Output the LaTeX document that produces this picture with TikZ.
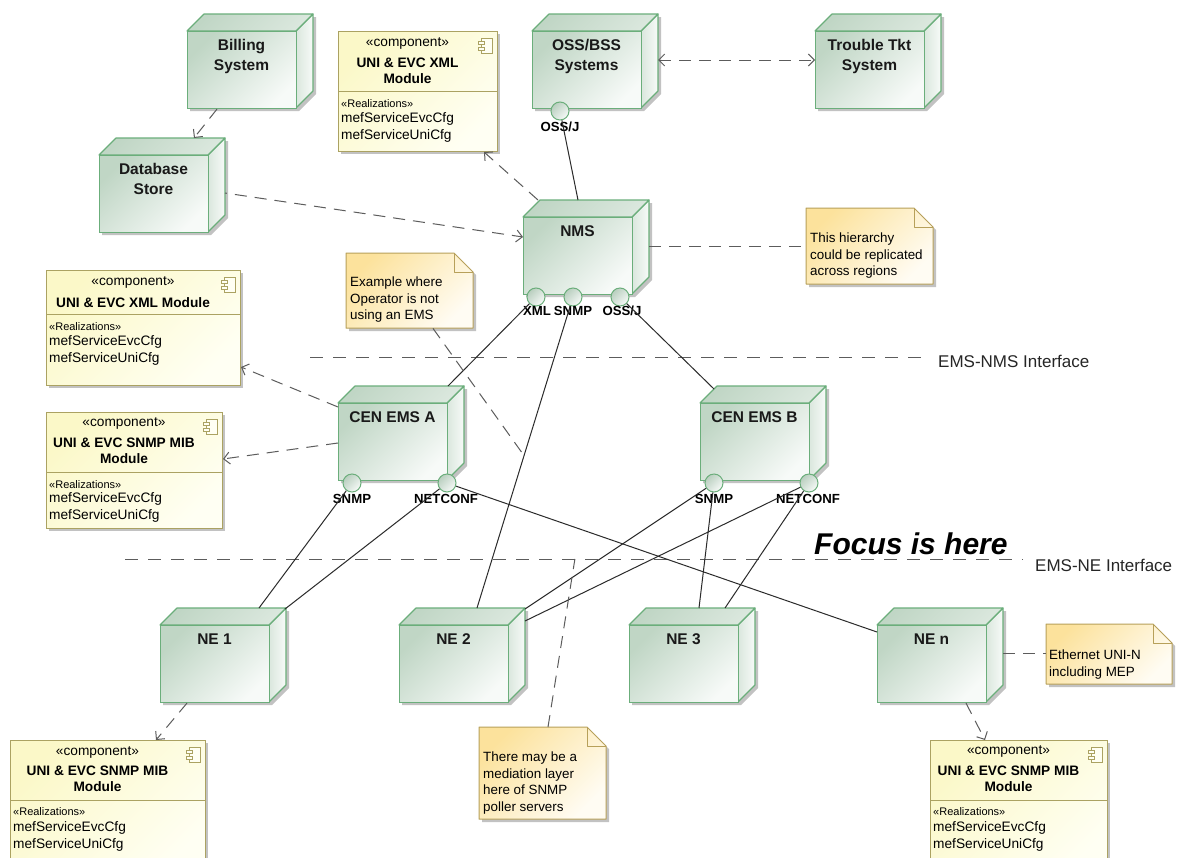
\documentclass[tikz,border=0pt]{standalone}
\usepackage{fontspec}
\setmainfont{Liberation Sans}
\usetikzlibrary{arrows.meta,calc}

\definecolor{nodeDark}{HTML}{C0D6C5}
\definecolor{nodeLight}{HTML}{F7FAF8}
\definecolor{sideDark}{HTML}{DAE7DD}
\definecolor{nodeLine}{HTML}{6BAE7B}
\definecolor{portDark}{HTML}{B8CEBE}
\definecolor{compDark}{HTML}{FBF8C8}
\definecolor{compLight}{HTML}{FFFFF3}
\definecolor{compLine}{HTML}{ABA262}
\definecolor{noteDark}{HTML}{FCE29C}
\definecolor{noteLight}{HTML}{FFFCF3}
\definecolor{noteLine}{HTML}{B7A05A}
\definecolor{shadowGray}{HTML}{C2C2C2}
\definecolor{dashGray}{HTML}{5C5C5C}
\definecolor{lineDark}{HTML}{2B2B2B}

\tikzset{
  frontface/.style={draw=nodeLine, line width=1.1pt, top color=nodeDark, bottom color=nodeLight, shading angle=45, minimum width=109pt, minimum height=77pt, inner sep=0pt, anchor=north west},
  topface/.style={draw=nodeLine, line width=1.1pt, line join=round, top color=nodeDark, bottom color=sideDark, shading angle=45},
  sideface/.style={draw=nodeLine, line width=1.1pt, line join=round, left color=sideDark, right color=nodeLight},
  cubetitle/.style={font=\fontsize{15.5}{19.5}\selectfont\bfseries, align=center, inner sep=0pt, anchor=north, text=black!90},
  port/.style={circle, draw=nodeLine, line width=1pt, minimum size=18pt, inner sep=0pt, top color=portDark, bottom color=nodeLight, shading angle=45},
  portlabel/.style={font=\fontsize{13.2}{15}\selectfont\bfseries, inner sep=0pt},
  compshape/.style={draw=compLine, line width=1pt, top color=compDark, bottom color=compLight, shading angle=45, inner sep=0pt, anchor=north west},
  stereo/.style={font=\fontsize{13.7}{16}\selectfont, inner sep=0pt},
  compname/.style={font=\fontsize{13.7}{16}\selectfont\bfseries, align=center, inner sep=0pt, anchor=north},
  realiz/.style={font=\fontsize{11}{13}\selectfont, inner sep=0pt, anchor=west},
  ops/.style={font=\fontsize{13.7}{16.5}\selectfont, align=left, inner sep=0pt, anchor=north west},
  noteshape/.style={draw=noteLine, line width=1pt, line join=round, top color=noteDark, bottom color=noteLight, shading angle=45},
  notetext/.style={font=\fontsize{13.4}{16.5}\selectfont, align=left, inner sep=0pt, anchor=north west},
  conn/.style={draw=lineDark, line width=1pt},
  dep/.style={draw=dashGray, line width=1pt, dash pattern=on 12pt off 8pt, -{Straight Barb[length=6pt,width=12pt]}},
  notelink/.style={draw=dashGray, line width=1pt, dash pattern=on 12pt off 8pt},
  ifline/.style={draw=dashGray, line width=1pt, dash pattern=on 13pt off 10pt},
  iflabel/.style={font=\fontsize{17}{20}\selectfont, inner sep=0pt, anchor=west, text=black!85},
  focus/.style={font=\fontsize{30}{34}\selectfont\bfseries\itshape, inner sep=0pt, anchor=west},
}

\newcommand\cubebox[4]{%
  \fill[shadowGray] (#2+3,#3+3) -- (#2+20,#3-14) -- (#2+129,#3-14) -- (#2+129,#3+63) -- (#2+112,#3+80) -- (#2+3,#3+80) -- cycle;
  \path[sideface] (#2+109,#3) -- (#2+126,#3-17) -- (#2+126,#3+60) -- (#2+109,#3+77) -- cycle;
  \path[topface] (#2,#3) -- (#2+17,#3-17) -- (#2+126,#3-17) -- (#2+109,#3) -- cycle;
  \node[frontface] (#1) at (#2,#3) {};
  \node[cubetitle] (#1-title) at (#2+54.5,#3+8.5) {#4};
}

\newcommand\compframe[6]{%
  \fill[shadowGray] (#2+3,#3+3) rectangle (#4+3,#5+3);
  \node[compshape, minimum width=#4-#2, minimum height=#5-#3] (#1) at (#2,#3) {};
  \draw[compLine, line width=1pt] (#2,#6) -- (#4,#6);
  \draw[compLine, line width=0.9pt, fill=compLight] (#4-16,#3+7) rectangle (#4-5,#3+22);
  \draw[compLine, line width=0.9pt, fill=compLight] (#4-19,#3+10) rectangle (#4-13,#3+13);
  \draw[compLine, line width=0.9pt, fill=compLight] (#4-19,#3+16) rectangle (#4-13,#3+19);
}

\newcommand\notebox[5]{%
  \fill[shadowGray] (#2+3,#3+3) -- (#4-16,#3+3) -- (#4+3,#3+22) -- (#4+3,#5+3) -- (#2+3,#5+3) -- cycle;
  \path[noteshape] (#2,#3) -- (#4-19,#3) -- (#4,#3+19) -- (#4,#5) -- (#2,#5) -- cycle;
  \draw[noteLine, line width=1pt, line join=round] (#4-19,#3) -- (#4-19,#3+19) -- (#4,#3+19);
  \node[inner sep=0pt, minimum width=#4-#2, minimum height=#5-#3, anchor=north west] (#1) at (#2,#3) {};
}

\begin{document}
\begin{tikzpicture}[x=1pt,y=-1pt]
\useasboundingbox (0,0) rectangle (1180,857);
\fill[white] (0,0) rectangle (1180,857);
\clip (0,0) rectangle (1180,857);

% interface lines
\coordinate (ifnmsL) at (310,357);
\coordinate (ifnmsR) at (928,357);
\coordinate (ifneL) at (125,559);
\coordinate (ifneR) at (1023,559);
\draw[ifline] (ifnmsL) -- (ifnmsR);
\draw[ifline] (ifneL) -- (ifneR);
\node[iflabel] (ifnmsText) at (938,361) {EMS-NMS Interface};
\node[iflabel] (ifneText) at (1035,565) {EMS-NE Interface};
\node[focus] (focusText) at (814,544) {Focus is here};

% nodes (3D boxes)
\cubebox{billing}{187}{31}{Billing\\System}
\cubebox{db}{99}{155}{Database\\Store}
\cubebox{oss}{532}{31}{OSS/BSS\\Systems}
\cubebox{trouble}{815}{31}{Trouble Tkt\\System}
\cubebox{nms}{523}{217}{NMS}
\cubebox{emsA}{338}{403}{CEN EMS A}
\cubebox{emsB}{700}{403}{CEN EMS B}
\cubebox{ne1}{160}{625}{NE 1}
\cubebox{ne2}{399}{625}{NE 2}
\cubebox{ne3}{629}{625}{NE 3}
\cubebox{nen}{877}{625}{NE n}

% components
\compframe{compTop}{338}{31}{497}{151}{91}
\node[stereo] (compTop-s) at (407.5,43) {«component»};
\node[compname] (compTop-n) at (407.5,58) {UNI \& EVC XML\\Module};
\node[realiz] (compTop-r) at (341,104) {«Realizations»};
\node[ops] (compTop-o) at (341,112.5) {mefServiceEvcCfg\\mefServiceUniCfg};

\compframe{compXML}{46}{270}{240}{385}{314}
\node[stereo] (compXML-s) at (133,282) {«component»};
\node[compname] (compXML-n) at (133,297) {UNI \& EVC XML Module};
\node[realiz] (compXML-r) at (49,327) {«Realizations»};
\node[ops] (compXML-o) at (49,335.5) {mefServiceEvcCfg\\mefServiceUniCfg};

\compframe{compSNMP}{46}{412}{222}{528}{472}
\node[stereo] (compSNMP-s) at (124,423) {«component»};
\node[compname] (compSNMP-n) at (124,438) {UNI \& EVC SNMP MIB\\Module};
\node[realiz] (compSNMP-r) at (49,485) {«Realizations»};
\node[ops] (compSNMP-o) at (49,492.5) {mefServiceEvcCfg\\mefServiceUniCfg};

\compframe{compBL}{10}{740}{205}{875}{800}
\node[stereo] (compBL-s) at (97.5,752) {«component»};
\node[compname] (compBL-n) at (97.5,766) {UNI \& EVC SNMP MIB\\Module};
\node[realiz] (compBL-r) at (13,812) {«Realizations»};
\node[ops] (compBL-o) at (13,821.5) {mefServiceEvcCfg\\mefServiceUniCfg};

\compframe{compBR}{930}{740}{1107}{875}{800}
\node[stereo] (compBR-s) at (1008.5,751) {«component»};
\node[compname] (compBR-n) at (1008.5,766) {UNI \& EVC SNMP MIB\\Module};
\node[realiz] (compBR-r) at (933,812) {«Realizations»};
\node[ops] (compBR-o) at (933,821.5) {mefServiceEvcCfg\\mefServiceUniCfg};

% notes
\notebox{hier}{806}{208}{933}{284}
\node[notetext] (hier-t) at (810,233) {This hierarchy\\could be replicated\\across regions};
\notebox{ex}{346}{253}{473}{328}
\node[notetext] (ex-t) at (350,277) {Example where\\Operator is not\\using an EMS};
\notebox{med}{479}{727}{606}{819}
\node[notetext] (med-t) at (483,752) {There may be a\\mediation layer\\here of SNMP\\poller servers};
\notebox{eth}{1046}{624}{1172}{684}
\node[notetext] (eth-t) at (1049,650) {Ethernet UNI-N\\including MEP};

% ports
\node[port] (ossJ) at (560,111) {};
\node[portlabel] (ossJ-l) at (560,127) {OSS/J};
\node[port] (nmsXML) at (536,297) {};
\node[portlabel] (nmsXML-l) at (537,311) {XML};
\node[port] (nmsSNMP) at (573,297) {};
\node[portlabel] (nmsSNMP-l) at (573,311) {SNMP};
\node[port] (nmsOSS) at (620,297) {};
\node[portlabel] (nmsOSS-l) at (622,311) {OSS/J};
\node[port] (emsAsnmp) at (352,483) {};
\node[portlabel] (emsAsnmp-l) at (352,499) {SNMP};
\node[port] (emsAnet) at (447,483) {};
\node[portlabel] (emsAnet-l) at (446,499) {NETCONF};
\node[port] (emsBsnmp) at (714,483) {};
\node[portlabel] (emsBsnmp-l) at (714,499) {SNMP};
\node[port] (emsBnet) at (809,483) {};
\node[portlabel] (emsBnet-l) at (808,499) {NETCONF};

% helper coordinates
\coordinate (ne2top) at ($(ne2.north west)+(78,-17)$);
\coordinate (exA) at ($(nmsSNMP)!0.51!(ne2top)$);
\coordinate (medA) at ($(ifneL)!0.501!(ifneR)$);

% connectors
\draw[dep] ($(billing.south west)+(30,0)$) -- ($(db.north west)+(95,-17)$);
\draw[dep, dash phase=10pt] ($(db.north west)+(126,38)$) -- ($(nms.north west)+(0,20)$);
\draw[dep] ($(nms.north west)+(15,-17)$) -- ($(compTop.south west)+(146,0)$);
\draw[conn] (ossJ) -- ($(nms.north west)+(55,-17)$);
\draw[dep, {Straight Barb[length=6pt,width=12pt]}-{Straight Barb[length=6pt,width=12pt]}] ($(oss.north west)+(126,29)$) -- ($(trouble.north west)+(0,29)$);
\draw[notelink] ($(nms.north west)+(126,29)$) -- ($(hier.north west)+(0,38)$);
\draw[conn] (nmsXML) -- ($(emsA.north west)+(110,-17)$);
\draw[conn] (nmsSNMP) -- (ne2top);
\draw[conn] (nmsOSS) -- ($(emsB.north west)+(14,-14)$);
\draw[dep] ($(emsA.north west)+(0,4)$) -- ($(compXML.north east)+(0,97)$);
\draw[dep] ($(emsA.north west)+(0,40)$) -- ($(compSNMP.north east)+(0,47)$);
\draw[conn] (emsAsnmp) -- ($(ne1.north west)+(99,-17)$);
\draw[conn] (emsAnet) -- ($(ne1.north west)+(125,-16)$);
\draw[conn] (emsAnet) -- ($(nen.north west)+(0,7)$);
\draw[conn] (emsBsnmp) -- ($(ne2.north west)+(126,-16)$);
\draw[conn] (emsBnet) -- ($(ne2.north west)+(126,-4)$);
\draw[conn] (emsBsnmp) -- ($(ne3.north west)+(70,-17)$);
\draw[conn] (emsBnet) -- ($(ne3.north west)+(96,-17)$);
\draw[notelink] ($(ex.south west)+(87,0)$) -- (exA);
\draw[notelink] ($(med.north west)+(69,0)$) -- (medA);
\draw[dep] ($(ne1.south west)+(27,0)$) -- ($(compBL.north west)+(146,0)$);
\draw[dep] ($(nen.south west)+(89,0)$) -- ($(compBR.north west)+(55,0)$);
\draw[notelink] ($(nen.north west)+(126,28)$) -- ($(eth.north west)+(0,29)$);
\end{tikzpicture}
\end{document}
